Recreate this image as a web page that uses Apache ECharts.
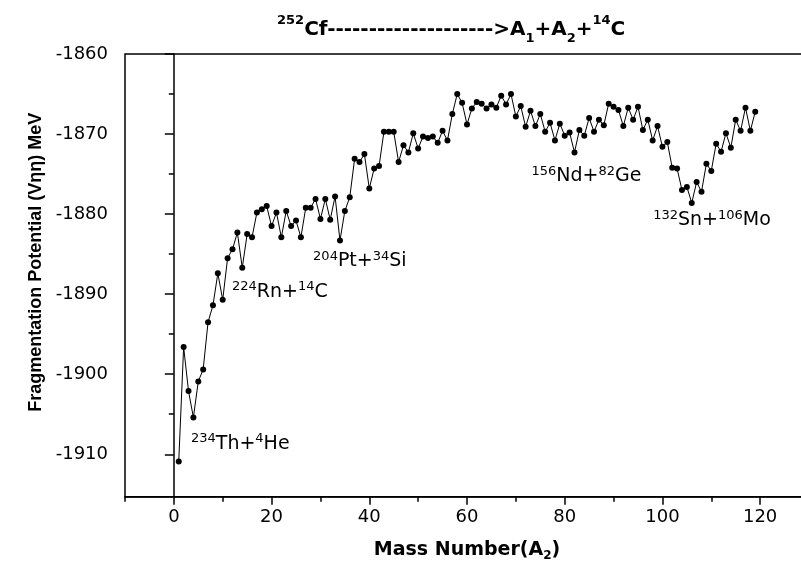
<!DOCTYPE html>
<html>
<head>
<meta charset="utf-8">
<script src="https://cdn.jsdelivr.net/npm/echarts/dist/echarts.min.js"></script>
<style>
html,body{margin:0;padding:0;background:#fff;overflow:hidden;}
#chart{width:812px;height:571px;}
</style>
</head>
<body>
<div id="chart"></div>
<script>
// Mass number A2 (x values)
var massNumber = [
  1,2,3,4,5,6,7,8,9,10,11,12,13,14,15,16,17,18,19,20,
  21,22,23,24,25,26,27,28,29,30,31,32,33,34,35,36,37,38,39,40,
  41,42,43,44,45,46,47,48,49,50,51,52,53,54,55,56,57,58,59,60,
  61,62,63,64,65,66,67,68,69,70,71,72,73,74,75,76,77,78,79,80,
  81,82,83,84,85,86,87,88,89,90,91,92,93,94,95,96,97,98,99,100,
  101,102,103,104,105,106,107,108,109,110,111,112,113,114,115,116,117,118,119
];
// Fragmentation potential (MeV)
var potential = [
  -1910.9,-1896.6,-1902.1,-1905.4,-1900.9,-1899.4,-1893.5,-1891.4,-1887.4,-1890.7,
  -1885.5,-1884.4,-1882.3,-1886.7,-1882.5,-1882.9,-1879.8,-1879.4,-1879.0,-1881.5,
  -1879.8,-1882.9,-1879.6,-1881.5,-1880.8,-1882.9,-1879.2,-1879.2,-1878.1,-1880.6,
  -1878.1,-1880.7,-1877.8,-1883.3,-1879.6,-1877.9,-1873.1,-1873.5,-1872.5,-1876.8,
  -1874.3,-1874.0,-1869.7,-1869.7,-1869.7,-1873.5,-1871.4,-1872.3,-1869.9,-1871.8,
  -1870.3,-1870.5,-1870.3,-1871.1,-1869.6,-1870.8,-1867.5,-1865.0,-1866.1,-1868.8,
  -1866.8,-1866.0,-1866.2,-1866.8,-1866.3,-1866.7,-1865.2,-1866.3,-1865.0,-1867.8,
  -1866.5,-1869.1,-1867.1,-1869.0,-1867.5,-1869.7,-1868.6,-1870.8,-1868.7,-1870.2,
  -1869.8,-1872.3,-1869.5,-1870.2,-1868.0,-1869.7,-1868.2,-1868.9,-1866.2,-1866.6,
  -1867.0,-1869.0,-1866.7,-1868.2,-1866.6,-1869.5,-1868.2,-1870.8,-1869.0,-1871.6,
  -1871.0,-1874.2,-1874.3,-1877.0,-1876.6,-1878.6,-1876.0,-1877.2,-1873.7,-1874.6,
  -1871.2,-1872.2,-1869.9,-1871.7,-1868.2,-1869.6,-1866.7,-1869.6,-1867.2
];
// Axis ticks
var xMajorTicks = [0,20,40,60,80,100,120];
var xMinorTicks = [-10,10,30,50,70,90,110,130];
var yMajorTicks = [-1910,-1900,-1890,-1880,-1870,-1860];
var yMinorTicks = [-1905,-1895,-1885,-1875,-1865];
// Annotations (anchor at left / text middle)
var annoX = [3.5, 11.9, 28.5, 73.2, 98.1];
var annoY = [-1908.7, -1889.7, -1885.9, -1875.3, -1880.8];
var annoText = [
  '{s|234}{m|Th+}{s|4}{m|He}',
  '{s|224}{m|Rn+}{s|14}{m|C}',
  '{s|204}{m|Pt+}{s|34}{m|Si}',
  '{s|156}{m|Nd+}{s|82}{m|Ge}',
  '{s|132}{m|Sn+}{s|106}{m|Mo}'
];
var titleDashes = '--------------------';

var lineData = massNumber.map(function(a, i){ return [a, potential[i]]; });
var annoData = annoX.map(function(x, i){ return {value:[x, annoY[i]], label:{formatter: annoText[i]}}; });

var F = '"DejaVu Sans", sans-serif';
var chart = echarts.init(document.getElementById('chart'), null, {renderer:'canvas'});
var axisLine = {show:true, lineStyle:{color:'#000', width:1.5}};
chart.setOption({
  animation:false,
  backgroundColor:'#fff',
  title:{
    left:272, top:9,
    text:'{s|252}{m|Cf' + titleDashes + '>A}{b|1}{m|+A}{b|2}{m|+}{s|14}{m|C}',
    textStyle:{
      rich:{
        m:{fontFamily:F, fontWeight:'bold', fontSize:20, lineHeight:31, color:'#000'},
        s:{fontFamily:F, fontWeight:'bold', fontSize:13, lineHeight:16, verticalAlign:'top', color:'#000'},
        b:{fontFamily:F, fontWeight:'bold', fontSize:13, lineHeight:9, verticalAlign:'bottom', color:'#000'}
      }
    }
  },
  grid:{left:125, top:54, right:3, bottom:74.3, show:true, borderColor:'#000', borderWidth:1.5, containLabel:false},
  xAxis:[{
    type:'value', min:-10, max:130, position:'bottom',
    axisLine:axisLine,
    axisTick:{show:true, customValues:xMajorTicks, length:8, lineStyle:{color:'#000', width:1.5}},
    axisLabel:{show:true, customValues:xMajorTicks, fontFamily:F, fontSize:18, color:'#000', margin:12},
    splitLine:{show:false},
    name:'{m|Mass Number(A}{b|2}{m|)}',
    nameLocation:'middle', nameGap:42,
    nameTextStyle:{rich:{
      m:{fontFamily:F, fontWeight:'bold', fontSize:19, lineHeight:23, color:'#000'},
      b:{fontFamily:F, fontWeight:'bold', fontSize:12, lineHeight:8, verticalAlign:'bottom', color:'#000'}
    }}
  },{
    type:'value', min:-10, max:130, position:'bottom',
    axisLine:{show:false},
    axisTick:{show:true, customValues:xMinorTicks, length:5, lineStyle:{color:'#000', width:1.5}},
    axisLabel:{show:false},
    splitLine:{show:false}
  }],
  yAxis:[{
    type:'value', min:-1915.3, max:-1860, position:'left',
    axisLine:axisLine,
    axisTick:{show:true, customValues:yMajorTicks, length:9, lineStyle:{color:'#000', width:1.5}},
    axisLabel:{show:true, customValues:yMajorTicks, fontFamily:F, fontSize:18, color:'#000', margin:17,
      formatter:function(v){ return String(v); }},
    splitLine:{show:false},
    name:'Fragmentation Potential (V\u03b7\u03b7) MeV',
    nameLocation:'middle', nameGap:72, nameRotate:90,
    nameTextStyle:{fontFamily:'"Liberation Sans", Arial, sans-serif', fontWeight:'bold', fontSize:18, color:'#000',
      padding:[0,0,0,26]}
  },{
    type:'value', min:-1915.3, max:-1860, position:'left',
    axisLine:{show:false},
    axisTick:{show:true, customValues:yMinorTicks, length:5, lineStyle:{color:'#000', width:1.5}},
    axisLabel:{show:false},
    splitLine:{show:false}
  }],
  series:[{
    type:'line', xAxisIndex:0, yAxisIndex:0,
    data:lineData,
    symbol:'circle', symbolSize:6, showSymbol:true,
    itemStyle:{color:'#000'},
    lineStyle:{color:'#000', width:1},
    z:3
  },{
    type:'scatter', xAxisIndex:0, yAxisIndex:0,
    data:annoData, symbolSize:0, silent:true,
    itemStyle:{opacity:1},
    label:{show:true, position:'right', distance:0, align:'left', verticalAlign:'middle', color:'#000', opacity:1,
      rich:{
        m:{fontFamily:F, fontSize:19, lineHeight:23, color:'#000'},
        s:{fontFamily:F, fontSize:13, lineHeight:11, verticalAlign:'top', color:'#000'}
      }
    },
    emphasis:{disabled:true}
  }]
});
</script>
</body>
</html>
